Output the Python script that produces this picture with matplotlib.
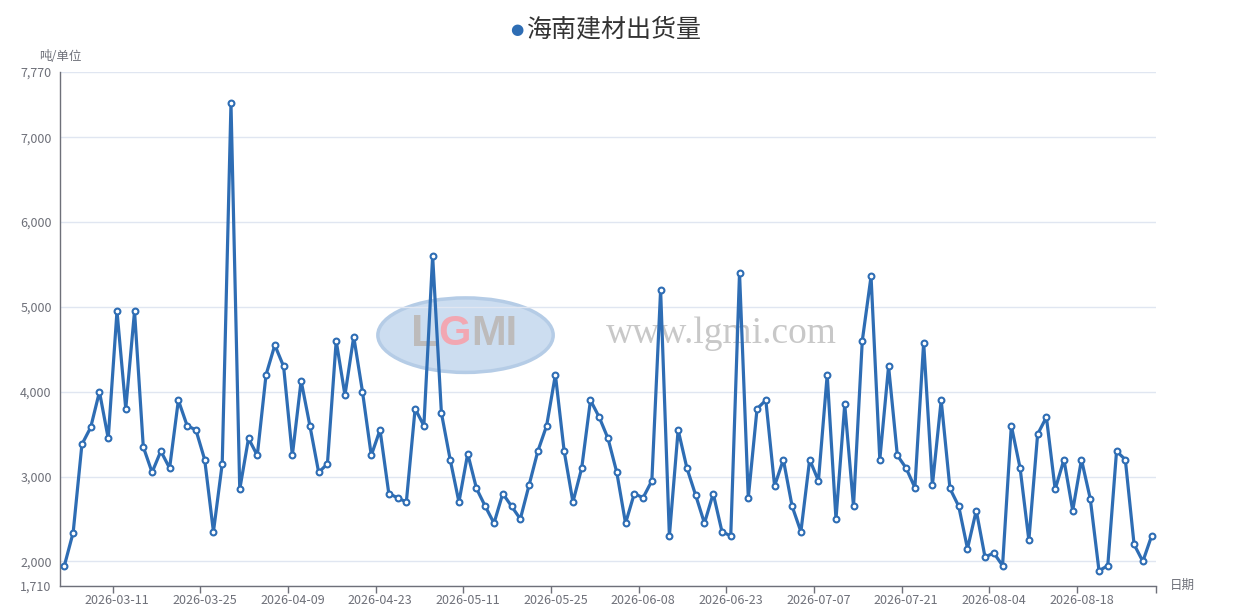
import numpy as np
import matplotlib
matplotlib.use("Agg")
import matplotlib.pyplot as plt
from matplotlib.patches import Ellipse
from matplotlib.ticker import FuncFormatter

plt.rcParams["font.family"] = ["Noto Sans CJK SC", "DejaVu Sans"]

title = "海南建材出货量"
y_unit = "吨/单位"
x_name = "日期"

# daily shipments (working days)
values = [
    1950, 2340, 3380, 3580, 4000, 3450, 4950, 3800, 4950, 3350,
    3050, 3300, 3100, 3900, 3600, 3550, 3200, 2350, 3150, 7400,
    2850, 3450, 3250, 4200, 4550, 4300, 3250, 4130, 3600, 3050,
    3150, 4600, 3960, 4650, 4000, 3250, 3550, 2800, 2750, 2700,
    3800, 3600, 5600, 3750, 3200, 2700, 3270, 2860, 2650, 2450,
    2800, 2650, 2500, 2900, 3300, 3600, 4200, 3300, 2700, 3100,
    3900, 3700, 3450, 3050, 2450, 2800, 2750, 2950, 5200, 2300,
    3550, 3100, 2780, 2450, 2800, 2350, 2300, 5400, 2750, 3800,
    3900, 2890, 3200, 2650, 2350, 3200, 2950, 4200, 2500, 3850,
    2650, 4600, 5360, 3200, 4300, 3250, 3100, 2870, 4580, 2900,
    3900, 2860, 2650, 2150, 2600, 2050, 2100, 1950, 3600, 3100,
    2250, 3500, 3700, 2850, 3200, 2600, 3200, 2740, 1890, 1950,
    3300, 3200, 2200, 2000, 2300,
]

tick_index = [6, 16, 26, 36, 46, 56, 66, 76, 86, 96, 106, 116]
tick_labels = [
    "2026-03-11", "2026-03-25", "2026-04-09", "2026-04-23",
    "2026-05-11", "2026-05-25", "2026-06-08", "2026-06-23",
    "2026-07-07", "2026-07-21", "2026-08-04", "2026-08-18",
]
y_ticks = [1710, 2000, 3000, 4000, 5000, 6000, 7000, 7770]

line_color = "#2E6DB4"
axis_color = "#6E7079"
grid_color = "#E0E6F1"

fig = plt.figure(figsize=(12.33, 6.09), dpi=100)
ax = fig.add_axes([60 / 1233, 23 / 609, 1096 / 1233, 514 / 609])

x = np.arange(len(values))

# watermark (logo + site name)
ax.add_patch(Ellipse((0.37, 0.488), 0.16, 0.145, transform=ax.transAxes,
                     facecolor="#CCDDF0", edgecolor="#B5CCE6", lw=2.5, zorder=0))
ax.text(0.345, 0.49, "L", color="#BDBBBB", fontsize=32, fontweight="bold",
        ha="right", va="center", transform=ax.transAxes, zorder=0,
        family=["Liberation Sans"])
ax.text(0.345, 0.49, "G", color="#F2A7B2", fontsize=30, fontweight="bold",
        ha="left", va="center", transform=ax.transAxes, zorder=0,
        family=["Liberation Sans"])
ax.text(0.375, 0.49, "MI", color="#BDBBBB", fontsize=30, fontweight="bold",
        ha="left", va="center", transform=ax.transAxes, zorder=0,
        family=["Liberation Sans"])
ax.text(0.603, 0.49, "www.lgmi.com", color="#C8C8C8", fontsize=27,
        ha="center", va="center", transform=ax.transAxes, zorder=0,
        family=["Liberation Serif"])

ax.plot(x, values, color=line_color, lw=2.3, marker="o", markersize=4.2,
        markerfacecolor="white", markeredgecolor=line_color,
        markeredgewidth=1.5, zorder=3, clip_on=False)

ax.set_xlim(-0.5, len(values) - 0.5)
ax.set_ylim(y_ticks[0], y_ticks[-1])

ax.set_yticks(y_ticks)
ax.yaxis.set_major_formatter(FuncFormatter(lambda v, p: f"{int(v):,}"))
ax.grid(axis="y", color=grid_color, lw=1, zorder=0)
ax.set_axisbelow(True)

ax.set_xticks(tick_index)
ax.set_xticklabels(tick_labels)
ax.set_xticks([i - 0.5 for i in tick_index] + [len(values) - 0.5], minor=True)
ax.tick_params(axis="x", which="major", length=0, pad=6,
               labelsize=9, labelcolor=axis_color)
ax.tick_params(axis="x", which="minor", length=5, color=axis_color, width=1)
ax.tick_params(axis="y", length=0, pad=6, labelsize=9, labelcolor=axis_color)

for side in ["top", "right"]:
    ax.spines[side].set_visible(False)
for side in ["left", "bottom"]:
    ax.spines[side].set_color(axis_color)
    ax.spines[side].set_linewidth(1)

fig.text(60 / 1233, 1 - 56 / 609, y_unit, ha="center", va="center",
         fontsize=9, color=axis_color)
fig.text(1182 / 1233, 1 - 585 / 609, x_name, ha="center", va="center",
         fontsize=9, color=axis_color)

# legend-style title
fig.text(517 / 1233, 1 - 30 / 609, "●", ha="center", va="center",
         fontsize=11, color=line_color, family=["DejaVu Sans"])
fig.text(527 / 1233, 1 - 29 / 609, title, ha="left", va="center",
         fontsize=18, color="#333333")

fig.savefig("out.png", dpi=100)
